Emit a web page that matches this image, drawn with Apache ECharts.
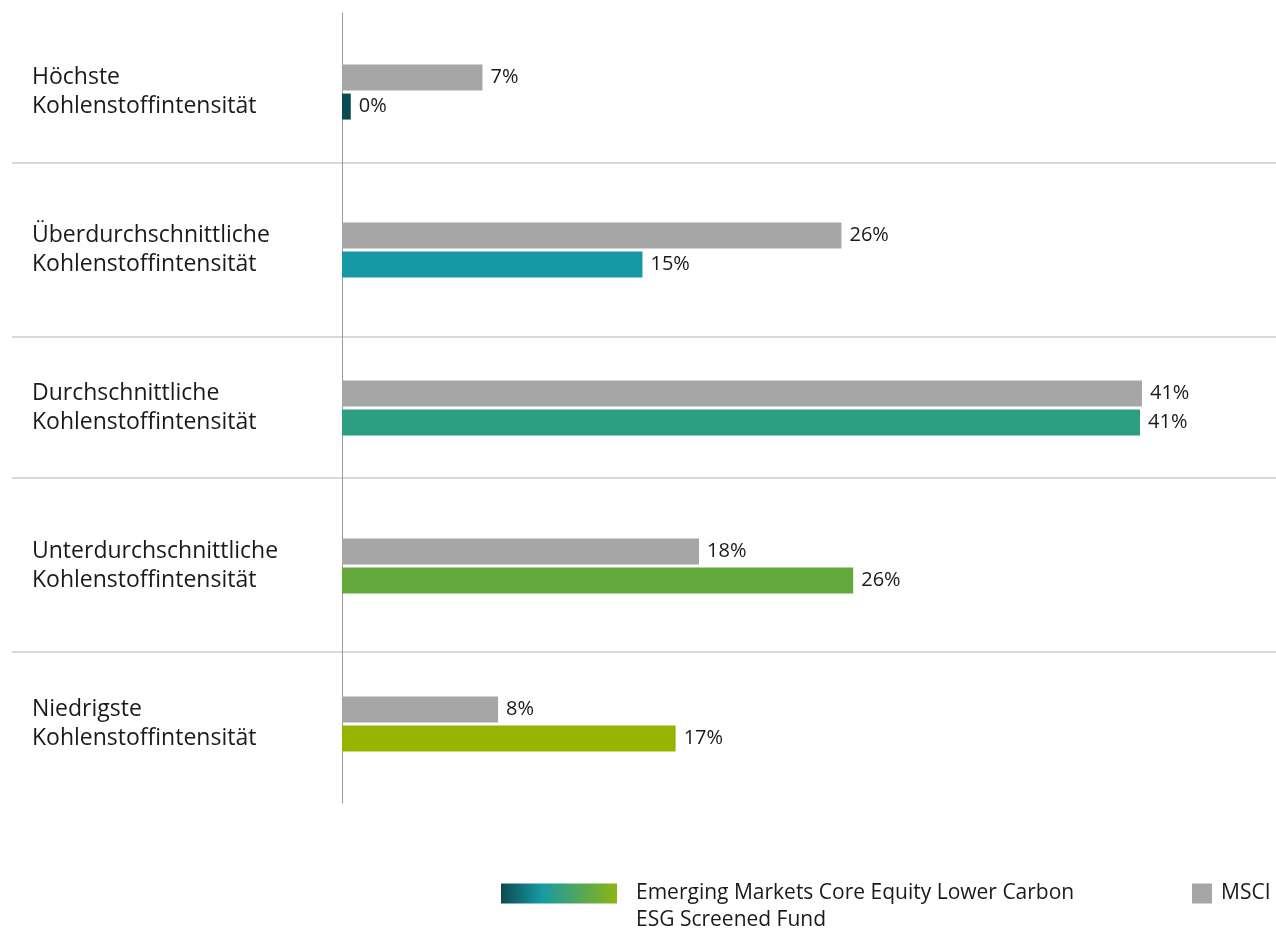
<!DOCTYPE html>
<html>
<head>
<meta charset="utf-8">
<script src="https://cdn.jsdelivr.net/npm/echarts@6/dist/echarts.min.js"></script>
<style>
html,body{margin:0;padding:0;background:#fff;}
#c{width:1276px;height:928px;}
</style>
</head>
<body>
<div id="c"></div>
<script>
var categories = [
  'Höchste\nKohlenstoffintensität',
  'Überdurchschnittliche\nKohlenstoffintensität',
  'Durchschnittliche\nKohlenstoffintensität',
  'Unterdurchschnittliche\nKohlenstoffintensität',
  'Niedrigste\nKohlenstoffintensität'
];
var msciValues = [7.2, 25.6, 41.0, 18.3, 8.0];
var fundValues = [0.45, 15.4, 40.9, 26.2, 17.1];
var fundColors = ['#0b4a50', '#1799a5', '#2c9e82', '#63a83b', '#97b500'];
var fundName = 'Emerging Markets Core Equity Lower Carbon ESG Screened Fund';
var fundLegendLines = ['Emerging Markets Core Equity Lower Carbon', 'ESG Screened Fund'];
var msciName = 'MSCI';

var FONT = '"Open Sans"';
var chart = echarts.init(document.getElementById('c'));
var sepY = [163, 337, 478, 652];

var valueLabel = {
  show: true, position: 'right', distance: 8, fontSize: 20, color: '#1a1a1a', fontFamily: FONT,
  formatter: function (p) { return Math.round(p.value) + '%'; }
};

var option = {
  animation: false,
  textStyle: { fontFamily: FONT },
  grid: { left: 342, right: 56, top: 13, bottom: 125, containLabel: false },
  xAxis: { type: 'value', min: 0, max: 45, show: false },
  yAxis: {
    type: 'category',
    inverse: true,
    data: categories,
    axisLine: { show: true, lineStyle: { color: '#9a9a9a', width: 1 } },
    axisTick: { show: false },
    splitLine: { show: false },
    axisLabel: {
      align: 'left', margin: 310, fontSize: 23, lineHeight: 29,
      color: '#1a1a1a', fontFamily: FONT
    }
  },
  legend: [
    {
      left: 496, top: 848, itemWidth: 116, itemHeight: 20, icon: 'rect',
      data: [{
        name: fundName,
        itemStyle: {
          color: new echarts.graphic.LinearGradient(0, 0, 1, 0, [
            { offset: 0, color: '#0b4a50' },
            { offset: 0.35, color: '#1799a5' },
            { offset: 1, color: '#8db512' }
          ])
        }
      }],
      formatter: function () { return '\n' + fundLegendLines.join('\n'); },
      textStyle: { fontSize: 21, lineHeight: 27, color: '#1a1a1a', padding: [0, 0, 0, 14], fontFamily: FONT },
      selectedMode: false
    },
    {
      left: 1187, top: 878, itemWidth: 20, itemHeight: 20, icon: 'rect',
      data: [msciName],
      textStyle: { fontSize: 21, color: '#1a1a1a', padding: [0, 0, 0, 4], fontFamily: FONT },
      selectedMode: false
    }
  ],
  graphic: sepY.map(function (y) {
    return {
      type: 'line', z: -1,
      shape: { x1: 12, y1: y, x2: 1276, y2: y },
      style: { stroke: '#cccccc', lineWidth: 1.5 }
    };
  }),
  series: [
    {
      name: msciName, type: 'bar', barWidth: 26, barGap: '12%',
      itemStyle: { color: '#a6a6a6' },
      data: msciValues,
      label: valueLabel
    },
    {
      name: fundName, type: 'bar', barWidth: 26, barGap: '12%',
      data: fundValues.map(function (v, i) { return { value: v, itemStyle: { color: fundColors[i] } }; }),
      label: valueLabel
    }
  ]
};
chart.setOption(option);
</script>
</body>
</html>
